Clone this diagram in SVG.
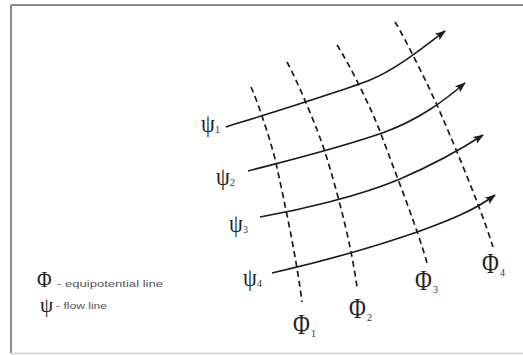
<svg xmlns="http://www.w3.org/2000/svg" width="523" height="355" viewBox="0 0 523 355">
<style>
.flow{fill:none;stroke:#1a1a1a;stroke-width:1.6;marker-end:url(#arr)}
.equi{fill:none;stroke:#1a1a1a;stroke-width:1.7;stroke-dasharray:6 4}
.lbl{font-family:"Liberation Serif",serif;fill:#222}
.psi{font-size:21px}
.phi{font-size:23px}
.sub{font-family:"Liberation Serif",serif;fill:#333;font-size:10px}
.leg{font-family:"Liberation Sans",sans-serif;fill:#555;font-size:9px}
</style>
<defs>
<marker id="arr" viewBox="0 0 11 8" refX="10" refY="4" markerWidth="11" markerHeight="8" markerUnits="userSpaceOnUse" orient="auto">
<path d="M0,0 L11,4 L0,8 L2.5,4 Z" fill="#1a1a1a"/>
</marker>
</defs>
<rect x="0" y="0" width="523" height="355" fill="#fff"/>
<g id="frame">
<line x1="11" y1="5" x2="523" y2="5" stroke="#8a8a8a" stroke-width="2"/>
<line x1="11" y1="5" x2="11" y2="353" stroke="#8a8a8a" stroke-width="2"/>
<line x1="11" y1="353.5" x2="523" y2="353.5" stroke="#cfcfcf" stroke-width="1.5"/>
</g>
<g id="connectors">
<path id="phi1-line" class="equi" d="M251,87 C258,102 272,145 276,163 C285,205 296,255 302,302"/>
<path id="phi2-line" class="equi" d="M287,62 C297,80 318,130 325,152 C340,200 352,250 357,287"/>
<path id="phi3-line" class="equi" d="M337,45 C350,65 372,110 381,134 C395,172 418,230 427,263"/>
<path id="phi4-line" class="equi" d="M395,22 C405,38 428,85 437,105 C450,135 480,205 493,247"/>
<path id="psi1-line" class="flow" d="M226,127 C290,107 345,90 370,80 C395,70 420,50 445,31"/>
<path id="psi2-line" class="flow" d="M248,171 C290,160 340,148 385,132 C420,119 445,100 465,83"/>
<path id="psi3-line" class="flow" d="M260,217 C300,210 360,196 400,179 C430,166 460,150 483,135"/>
<path id="psi4-line" class="flow" d="M272,273 C320,262 380,245 420,231 C450,220 475,210 495,195"/>
</g>
<g id="psi1"><text class="lbl psi" transform="translate(201,132) scale(1.05,1.2)">ψ</text><text class="sub" x="215" y="133">1</text></g>
<g id="psi2"><text class="lbl psi" transform="translate(216,185) scale(1.05,1.2)">ψ</text><text class="sub" x="230" y="186">2</text></g>
<g id="psi3"><text class="lbl psi" transform="translate(229,232) scale(1.05,1.2)">ψ</text><text class="sub" x="243" y="233">3</text></g>
<g id="psi4"><text class="lbl psi" transform="translate(243,286) scale(1.05,1.2)">ψ</text><text class="sub" x="257" y="287">4</text></g>
<g id="phi1"><text class="lbl phi" transform="translate(293,334) scale(1,1.3)">Φ</text><text class="sub" x="311" y="337" font-size="12">1</text></g>
<g id="phi2"><text class="lbl phi" transform="translate(349,318) scale(1,1.3)">Φ</text><text class="sub" x="367" y="321" font-size="12">2</text></g>
<g id="phi3"><text class="lbl phi" transform="translate(415,290) scale(1,1.3)">Φ</text><text class="sub" x="433" y="293" font-size="12">3</text></g>
<g id="phi4"><text class="lbl phi" transform="translate(482,273) scale(1,1.3)">Φ</text><text class="sub" x="500" y="276" font-size="12">4</text></g>
<g id="legend">
<text class="lbl" transform="translate(37,287) scale(1,1.2)" font-size="20" fill="#333">Φ</text>
<text class="leg" x="57" y="287" textLength="106" lengthAdjust="spacingAndGlyphs">- equipotential line</text>
<text class="lbl" transform="translate(40,312) scale(1.05,1.1)" font-size="20" fill="#333">ψ</text>
<text class="leg" x="56" y="309" textLength="51" lengthAdjust="spacingAndGlyphs">- flow line</text>
</g>
</svg>
